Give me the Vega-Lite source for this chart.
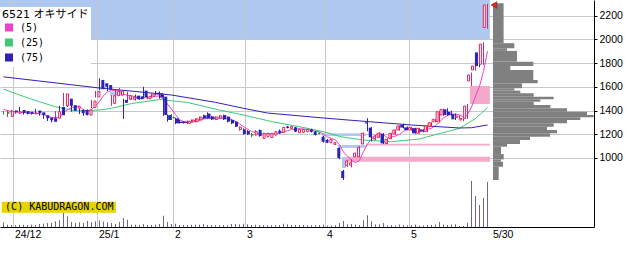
{
"$schema": "https://vega.github.io/schema/vega-lite/v6.json",
"width": 594, "height": 227,
"autosize": {"type": "none"},
"padding": {"left": 0, "top": 0, "right": 45, "bottom": 26},
"background": "white",
"config": {"view": {"stroke": null}, "axis": {"labelFont": "Liberation Sans", "labelFontSize": 10.5, "labelColor": "#000"}},
"datasets": {
"zones": [
{"kind":"blue","x1":-0.875,"x2":121.6,"p1":2000,"p2":2332},
{"kind":"pink","x1":116.6,"x2":121.6,"p1":1455,"p2":1607},
{"kind":"pink","x1":90.6,"x2":121.6,"p1":1105,"p2":1120},
{"kind":"pink","x1":85.5,"x2":121.6,"p1":968,"p2":1010},
{"kind":"blue","x1":26.6,"x2":29.9,"p1":1525,"p2":1558},
{"kind":"blue","x1":79.6,"x2":90.6,"p1":1185,"p2":1208},
{"kind":"blue","x1":83.6,"x2":90.6,"p1":1085,"p2":1109},
{"kind":"blue","x1":84.6,"x2":85.6,"p1":915,"p2":1008}
],
"vgrid": [{"k":2.5},{"k":23.5},{"k":42.5},{"k":60.5},{"k":80.5},{"k":101.5}],
"profile": [
{"p1":2305,"p2":1968,"w":10.6},{"p1":1968,"p2":1925,"w":21.3},{"p1":1925,"p2":1903,"w":14},{"p1":1903,"p2":1812,"w":24},
{"p1":1812,"p2":1776,"w":40.3},{"p1":1776,"p2":1742,"w":17.3},{"p1":1742,"p2":1658,"w":40.3},{"p1":1658,"p2":1630,"w":44.7},
{"p1":1630,"p2":1588,"w":29},{"p1":1588,"p2":1568,"w":21.3},{"p1":1568,"p2":1545,"w":27.3},{"p1":1545,"p2":1517,"w":40.7},
{"p1":1517,"p2":1495,"w":60.7},{"p1":1495,"p2":1475,"w":47.3},{"p1":1475,"p2":1447,"w":40.7},{"p1":1447,"p2":1419,"w":57.3},
{"p1":1419,"p2":1390,"w":74},{"p1":1390,"p2":1362,"w":94},{"p1":1362,"p2":1343,"w":100.7},{"p1":1343,"p2":1320,"w":87.3},
{"p1":1320,"p2":1292,"w":74},{"p1":1292,"p2":1264,"w":60.7},{"p1":1264,"p2":1236,"w":54},{"p1":1236,"p2":1208,"w":64},
{"p1":1208,"p2":1180,"w":57},{"p1":1180,"p2":1151,"w":37},{"p1":1151,"p2":1118,"w":27},{"p1":1118,"p2":1095,"w":14},
{"p1":1095,"p2":1033,"w":8},{"p1":1033,"p2":988,"w":10.7},{"p1":988,"p2":968,"w":8},{"p1":968,"p2":926,"w":10},{"p1":926,"p2":814,"w":5.7}
],
"copy": [{"x1":-0.45,"x2":28.1,"p1":538,"p2":631,"tx":0.4,"tp":583,"t":"(C) KABUDRAGON.COM"}],
"last": [{"k":122.6,"p":2290}],
"candles": [
{"k":0,"o":1380,"h":1395,"l":1365,"c":1380,"v":4.7},
{"k":1,"o":1350,"h":1400,"l":1345,"c":1395,"v":2.3},
{"k":2,"o":1400,"h":1405,"l":1380,"c":1385,"v":2},
{"k":3,"o":1378,"h":1395,"l":1372,"c":1388,"v":1.7},
{"k":4,"o":1405,"h":1430,"l":1375,"c":1380,"v":2.3},
{"k":5,"o":1395,"h":1400,"l":1365,"c":1372,"v":2.3},
{"k":6,"o":1390,"h":1395,"l":1368,"c":1372,"v":2},
{"k":7,"o":1372,"h":1385,"l":1365,"c":1380,"v":2.3},
{"k":8,"o":1400,"h":1415,"l":1375,"c":1380,"v":2},
{"k":9,"o":1385,"h":1390,"l":1358,"c":1362,"v":3},
{"k":10,"o":1360,"h":1365,"l":1330,"c":1335,"v":3.3},
{"k":11,"o":1340,"h":1345,"l":1312,"c":1318,"v":4},
{"k":12,"o":1335,"h":1340,"l":1300,"c":1305,"v":4},
{"k":13,"o":1335,"h":1395,"l":1330,"c":1390,"v":5.7},
{"k":14,"o":1430,"h":1440,"l":1355,"c":1360,"v":6.7},
{"k":15,"o":1440,"h":1548,"l":1435,"c":1540,"v":14},
{"k":16,"o":1500,"h":1520,"l":1430,"c":1440,"v":10.7},
{"k":17,"o":1445,"h":1455,"l":1390,"c":1398,"v":5},
{"k":18,"o":1420,"h":1440,"l":1410,"c":1433,"v":4},
{"k":19,"o":1405,"h":1415,"l":1370,"c":1377,"v":4.7},
{"k":20,"o":1405,"h":1410,"l":1355,"c":1362,"v":4},
{"k":21,"o":1362,"h":1410,"l":1358,"c":1405,"v":6},
{"k":22,"o":1425,"h":1490,"l":1420,"c":1480,"v":5},
{"k":23,"o":1515,"h":1565,"l":1510,"c":1560,"v":5.7},
{"k":24,"o":1658,"h":1672,"l":1570,"c":1580,"v":6.7},
{"k":25,"o":1630,"h":1640,"l":1590,"c":1600,"v":5.3},
{"k":26,"o":1615,"h":1625,"l":1565,"c":1575,"v":4.7},
{"k":27,"o":1460,"h":1530,"l":1440,"c":1525,"v":4},
{"k":28,"o":1525,"h":1575,"l":1515,"c":1560,"v":3},
{"k":29,"o":1530,"h":1590,"l":1525,"c":1565,"v":5},
{"k":30,"o":1490,"h":1500,"l":1330,"c":1465,"v":9},
{"k":31,"o":1495,"h":1560,"l":1480,"c":1525,"v":7.3},
{"k":32,"o":1495,"h":1525,"l":1490,"c":1515,"v":2.3},
{"k":33,"o":1525,"h":1535,"l":1485,"c":1495,"v":2.3},
{"k":34,"o":1520,"h":1525,"l":1490,"c":1495,"v":2},
{"k":35,"o":1568,"h":1600,"l":1505,"c":1512,"v":3},
{"k":36,"o":1500,"h":1525,"l":1495,"c":1520,"v":2},
{"k":37,"o":1520,"h":1550,"l":1510,"c":1540,"v":2},
{"k":38,"o":1550,"h":1565,"l":1530,"c":1535,"v":2.3},
{"k":39,"o":1545,"h":1560,"l":1500,"c":1510,"v":3},
{"k":40,"o":1517,"h":1530,"l":1355,"c":1362,"v":11.3},
{"k":41,"o":1362,"h":1365,"l":1306,"c":1320,"v":5},
{"k":42,"o":1340,"h":1370,"l":1320,"c":1340,"v":3},
{"k":43,"o":1334,"h":1340,"l":1285,"c":1292,"v":3.3},
{"k":44,"o":1306,"h":1320,"l":1290,"c":1295,"v":2},
{"k":45,"o":1303,"h":1310,"l":1290,"c":1295,"v":2},
{"k":46,"o":1292,"h":1315,"l":1285,"c":1310,"v":2},
{"k":47,"o":1305,"h":1325,"l":1300,"c":1320,"v":2.3},
{"k":48,"o":1306,"h":1335,"l":1300,"c":1330,"v":2.3},
{"k":49,"o":1320,"h":1350,"l":1315,"c":1345,"v":2.3},
{"k":50,"o":1360,"h":1365,"l":1330,"c":1334,"v":3},
{"k":51,"o":1375,"h":1385,"l":1330,"c":1334,"v":2},
{"k":52,"o":1350,"h":1355,"l":1320,"c":1325,"v":2},
{"k":53,"o":1325,"h":1350,"l":1320,"c":1345,"v":1.7},
{"k":54,"o":1334,"h":1360,"l":1330,"c":1355,"v":1.7},
{"k":55,"o":1362,"h":1365,"l":1320,"c":1325,"v":2},
{"k":56,"o":1348,"h":1350,"l":1300,"c":1306,"v":1.7},
{"k":57,"o":1320,"h":1325,"l":1285,"c":1292,"v":3},
{"k":58,"o":1306,"h":1310,"l":1260,"c":1264,"v":3},
{"k":59,"o":1240,"h":1265,"l":1230,"c":1260,"v":2.7},
{"k":60,"o":1241,"h":1250,"l":1195,"c":1202,"v":3.3},
{"k":61,"o":1227,"h":1235,"l":1195,"c":1199,"v":2.7},
{"k":62,"o":1195,"h":1210,"l":1175,"c":1195,"v":2},
{"k":63,"o":1194,"h":1235,"l":1190,"c":1222,"v":2.3},
{"k":64,"o":1236,"h":1240,"l":1180,"c":1185,"v":2},
{"k":65,"o":1165,"h":1212,"l":1160,"c":1208,"v":1.7},
{"k":66,"o":1180,"h":1212,"l":1175,"c":1208,"v":1.7},
{"k":67,"o":1172,"h":1210,"l":1168,"c":1205,"v":1.7},
{"k":68,"o":1194,"h":1228,"l":1190,"c":1222,"v":1.7},
{"k":69,"o":1230,"h":1240,"l":1205,"c":1208,"v":2},
{"k":70,"o":1216,"h":1262,"l":1212,"c":1258,"v":3.3},
{"k":71,"o":1264,"h":1270,"l":1250,"c":1253,"v":2.7},
{"k":72,"o":1250,"h":1270,"l":1245,"c":1264,"v":2},
{"k":73,"o":1258,"h":1262,"l":1218,"c":1222,"v":2},
{"k":74,"o":1213,"h":1245,"l":1210,"c":1241,"v":2},
{"k":75,"o":1216,"h":1245,"l":1212,"c":1241,"v":2},
{"k":76,"o":1222,"h":1245,"l":1218,"c":1241,"v":1.7},
{"k":77,"o":1240,"h":1245,"l":1215,"c":1220,"v":1.7},
{"k":78,"o":1222,"h":1228,"l":1190,"c":1194,"v":1.7},
{"k":79,"o":1208,"h":1215,"l":1200,"c":1208,"v":2},
{"k":80,"o":1180,"h":1185,"l":1130,"c":1137,"v":2.3},
{"k":81,"o":1151,"h":1160,"l":1125,"c":1129,"v":1.5},
{"k":82,"o":1129,"h":1160,"l":1125,"c":1157,"v":1.5},
{"k":83,"o":1115,"h":1135,"l":1109,"c":1129,"v":2},
{"k":84,"o":1084,"h":1090,"l":990,"c":1000,"v":4},
{"k":85,"o":890,"h":900,"l":815,"c":830,"v":6},
{"k":86,"o":935,"h":985,"l":925,"c":975,"v":2.7},
{"k":87,"o":940,"h":990,"l":920,"c":960,"v":3},
{"k":88,"o":1010,"h":1045,"l":1008,"c":1040,"v":2.5},
{"k":89,"o":1010,"h":1100,"l":1005,"c":1090,"v":2},
{"k":90,"o":1118,"h":1215,"l":1115,"c":1208,"v":6.7},
{"k":91,"o":1300,"h":1335,"l":1225,"c":1290,"v":11.7},
{"k":92,"o":1256,"h":1260,"l":1140,"c":1174,"v":5.7},
{"k":93,"o":1160,"h":1195,"l":1150,"c":1185,"v":2.7},
{"k":94,"o":1174,"h":1215,"l":1170,"c":1208,"v":2.7},
{"k":95,"o":1202,"h":1210,"l":1118,"c":1123,"v":4},
{"k":96,"o":1123,"h":1165,"l":1118,"c":1157,"v":1.5},
{"k":97,"o":1165,"h":1212,"l":1160,"c":1208,"v":2},
{"k":98,"o":1202,"h":1240,"l":1198,"c":1236,"v":1.5},
{"k":99,"o":1236,"h":1275,"l":1230,"c":1270,"v":2.5},
{"k":100,"o":1278,"h":1290,"l":1250,"c":1256,"v":2},
{"k":101,"o":1258,"h":1265,"l":1232,"c":1236,"v":1.5},
{"k":102,"o":1236,"h":1262,"l":1230,"c":1258,"v":2},
{"k":103,"o":1250,"h":1255,"l":1205,"c":1208,"v":2.5},
{"k":104,"o":1208,"h":1255,"l":1205,"c":1250,"v":1.5},
{"k":105,"o":1236,"h":1242,"l":1218,"c":1222,"v":1.5},
{"k":106,"o":1222,"h":1275,"l":1218,"c":1270,"v":2},
{"k":107,"o":1264,"h":1302,"l":1260,"c":1298,"v":2},
{"k":108,"o":1306,"h":1330,"l":1300,"c":1326,"v":2.5},
{"k":109,"o":1306,"h":1395,"l":1300,"c":1390,"v":5},
{"k":110,"o":1362,"h":1415,"l":1355,"c":1410,"v":2.5},
{"k":111,"o":1410,"h":1418,"l":1355,"c":1362,"v":2},
{"k":112,"o":1390,"h":1398,"l":1355,"c":1362,"v":2.5},
{"k":113,"o":1370,"h":1375,"l":1320,"c":1326,"v":2.7},
{"k":114,"o":1343,"h":1360,"l":1335,"c":1354,"v":1},
{"k":115,"o":1320,"h":1340,"l":1310,"c":1334,"v":1},
{"k":116,"o":1334,"h":1455,"l":1330,"c":1438,"v":4},
{"k":117,"o":1650,"h":1720,"l":1607,"c":1700,"v":46},
{"k":118,"o":1742,"h":1790,"l":1735,"c":1775,"v":31},
{"k":119,"o":1890,"h":1900,"l":1765,"c":1775,"v":22},
{"k":120,"o":1790,"h":1975,"l":1785,"c":1960,"v":29},
{"k":121,"o":2100,"h":2300,"l":2090,"c":2290,"v":45}
],
"ma": [
{"m":"(5)","k":0,"v":1410},{"m":"(5)","k":1,"v":1400},{"m":"(5)","k":2,"v":1392},{"m":"(5)","k":3,"v":1388},{"m":"(5)","k":4,"v":1386},{"m":"(5)","k":5,"v":1384},{"m":"(5)","k":6,"v":1379},{"m":"(5)","k":7,"v":1378},{"m":"(5)","k":8,"v":1377},{"m":"(5)","k":9,"v":1373},
{"m":"(5)","k":10,"v":1366},{"m":"(5)","k":11,"v":1355},{"m":"(5)","k":12,"v":1340},{"m":"(5)","k":13,"v":1342},{"m":"(5)","k":14,"v":1342},{"m":"(5)","k":15,"v":1383},{"m":"(5)","k":16,"v":1407},{"m":"(5)","k":17,"v":1426},{"m":"(5)","k":18,"v":1434},{"m":"(5)","k":19,"v":1438},
{"m":"(5)","k":20,"v":1402},{"m":"(5)","k":21,"v":1395},{"m":"(5)","k":22,"v":1411},{"m":"(5)","k":23,"v":1437},{"m":"(5)","k":24,"v":1477},{"m":"(5)","k":25,"v":1525},{"m":"(5)","k":26,"v":1559},{"m":"(5)","k":27,"v":1568},{"m":"(5)","k":28,"v":1568},{"m":"(5)","k":29,"v":1565},
{"m":"(5)","k":30,"v":1538},{"m":"(5)","k":31,"v":1528},{"m":"(5)","k":32,"v":1526},{"m":"(5)","k":33,"v":1513},{"m":"(5)","k":34,"v":1499},{"m":"(5)","k":35,"v":1508},{"m":"(5)","k":36,"v":1507},{"m":"(5)","k":37,"v":1512},{"m":"(5)","k":38,"v":1520},{"m":"(5)","k":39,"v":1523},
{"m":"(5)","k":40,"v":1493},{"m":"(5)","k":41,"v":1453},{"m":"(5)","k":42,"v":1413},{"m":"(5)","k":43,"v":1365},{"m":"(5)","k":44,"v":1322},{"m":"(5)","k":45,"v":1308},{"m":"(5)","k":46,"v":1306},{"m":"(5)","k":47,"v":1302},{"m":"(5)","k":48,"v":1310},{"m":"(5)","k":49,"v":1320},
{"m":"(5)","k":50,"v":1328},{"m":"(5)","k":51,"v":1333},{"m":"(5)","k":52,"v":1334},{"m":"(5)","k":53,"v":1337},{"m":"(5)","k":54,"v":1339},{"m":"(5)","k":55,"v":1337},{"m":"(5)","k":56,"v":1331},{"m":"(5)","k":57,"v":1325},{"m":"(5)","k":58,"v":1308},{"m":"(5)","k":59,"v":1289},
{"m":"(5)","k":60,"v":1265},{"m":"(5)","k":61,"v":1243},{"m":"(5)","k":62,"v":1224},{"m":"(5)","k":63,"v":1216},{"m":"(5)","k":64,"v":1201},{"m":"(5)","k":65,"v":1202},{"m":"(5)","k":66,"v":1204},{"m":"(5)","k":67,"v":1206},{"m":"(5)","k":68,"v":1206},{"m":"(5)","k":69,"v":1210},
{"m":"(5)","k":70,"v":1220},{"m":"(5)","k":71,"v":1229},{"m":"(5)","k":72,"v":1241},{"m":"(5)","k":73,"v":1241},{"m":"(5)","k":74,"v":1248},{"m":"(5)","k":75,"v":1244},{"m":"(5)","k":76,"v":1242},{"m":"(5)","k":77,"v":1233},{"m":"(5)","k":78,"v":1227},{"m":"(5)","k":79,"v":1221},
{"m":"(5)","k":80,"v":1200},{"m":"(5)","k":81,"v":1178},{"m":"(5)","k":82,"v":1165},{"m":"(5)","k":83,"v":1152},{"m":"(5)","k":84,"v":1110},{"m":"(5)","k":85,"v":1049},{"m":"(5)","k":86,"v":1018},{"m":"(5)","k":87,"v":979},{"m":"(5)","k":88,"v":961},{"m":"(5)","k":89,"v":979},
{"m":"(5)","k":90,"v":1055},{"m":"(5)","k":91,"v":1118},{"m":"(5)","k":92,"v":1160},{"m":"(5)","k":93,"v":1189},{"m":"(5)","k":94,"v":1213},{"m":"(5)","k":95,"v":1196},{"m":"(5)","k":96,"v":1169},{"m":"(5)","k":97,"v":1176},{"m":"(5)","k":98,"v":1186},{"m":"(5)","k":99,"v":1199},
{"m":"(5)","k":100,"v":1225},{"m":"(5)","k":101,"v":1241},{"m":"(5)","k":102,"v":1251},{"m":"(5)","k":103,"v":1246},{"m":"(5)","k":104,"v":1242},{"m":"(5)","k":105,"v":1235},{"m":"(5)","k":106,"v":1242},{"m":"(5)","k":107,"v":1250},{"m":"(5)","k":108,"v":1273},{"m":"(5)","k":109,"v":1301},
{"m":"(5)","k":110,"v":1339},{"m":"(5)","k":111,"v":1357},{"m":"(5)","k":112,"v":1370},{"m":"(5)","k":113,"v":1370},{"m":"(5)","k":114,"v":1363},{"m":"(5)","k":115,"v":1348},{"m":"(5)","k":116,"v":1363},{"m":"(5)","k":117,"v":1430},{"m":"(5)","k":118,"v":1520},{"m":"(5)","k":119,"v":1604},
{"m":"(5)","k":120,"v":1730},{"m":"(5)","k":121,"v":1900},
{"m":"(25)","k":0,"v":1581},{"m":"(25)","k":4,"v":1531},{"m":"(25)","k":9,"v":1474},{"m":"(25)","k":13,"v":1432},{"m":"(25)","k":18,"v":1396},{"m":"(25)","k":24,"v":1404},{"m":"(25)","k":27,"v":1419},{"m":"(25)","k":32,"v":1459},{"m":"(25)","k":39,"v":1493},{"m":"(25)","k":46,"v":1468},{"m":"(25)","k":54,"v":1404},{"m":"(25)","k":60,"v":1362},{"m":"(25)","k":67,"v":1307},{"m":"(25)","k":76,"v":1250},{"m":"(25)","k":81,"v":1213},{"m":"(25)","k":84,"v":1181},{"m":"(25)","k":90,"v":1151},{"m":"(25)","k":97,"v":1137},{"m":"(25)","k":104,"v":1160},{"m":"(25)","k":106,"v":1179},{"m":"(25)","k":114,"v":1250},{"m":"(25)","k":118,"v":1333},{"m":"(25)","k":121,"v":1425},
{"m":"(75)","k":0,"v":1684},{"m":"(75)","k":24,"v":1590},{"m":"(75)","k":42,"v":1531},{"m":"(75)","k":53,"v":1469},{"m":"(75)","k":60,"v":1419},{"m":"(75)","k":66,"v":1379},{"m":"(75)","k":80,"v":1337},{"m":"(75)","k":91,"v":1307},{"m":"(75)","k":102,"v":1278},{"m":"(75)","k":114,"v":1253},{"m":"(75)","k":117,"v":1255},{"m":"(75)","k":121,"v":1278}
]
},
"resolve": {"scale": {"x": "independent", "y": "independent", "color": "independent"}},
"layer": [
{"data": {"name": "zones"}, "mark": {"type": "rect"},
 "encoding": {
  "x": {"field": "x1", "type": "quantitative", "scale": {"domain": [-0.875, 147.625], "nice": false, "zero": false},
        "axis": {"values": [2.5, 23.5, 42.5, 60.5, 80.5, 101.5, 122], "labelExpr": "datum.value == 2.5 ? '24/12' : datum.value == 23.5 ? '25/1' : datum.value == 42.5 ? '2' : datum.value == 60.5 ? '3' : datum.value == 80.5 ? '4' : datum.value == 101.5 ? '5' : '5/30'", "grid": false, "ticks": false, "domainColor": "#000", "labelAlign": "left", "labelOffset": 1, "labelPadding": 2, "labelFlush": false, "labelOverlap": false, "title": null}},
  "x2": {"field": "x2"},
  "y": {"field": "p1", "type": "quantitative", "scale": {"domain": [418, 2332], "nice": false, "zero": false},
        "axis": {"orient": "right", "values": [1000, 1200, 1400, 1600, 1800, 2000, 2200], "format": "d", "grid": true, "gridColor": "#c8c8c8", "domainColor": "#000", "tickColor": "#000", "tickSize": 3, "labelPadding": 2, "labelFlush": false, "labelOverlap": false, "title": null}},
  "y2": {"field": "p2"},
  "color": {"field": "kind", "type": "nominal", "scale": {"domain": ["blue", "pink"], "range": ["#afc8f0", "#f2a9ca"]}, "legend": null}
 }},
{"data": {"name": "vgrid"}, "mark": {"type": "rule", "color": "#c8c8c8", "strokeWidth": 1},
 "encoding": {"x": {"field": "k", "type": "quantitative", "scale": {"domain": [-0.875, 147.625], "nice": false, "zero": false}, "axis": null}}},
{"data": {"name": "profile"}, "mark": {"type": "rect", "color": "#808080"},
 "encoding": {
  "x": {"field": "w", "type": "quantitative", "scale": {"domain": [0, 101], "range": [493, 594], "nice": false, "zero": false}, "axis": null},
  "x2": {"datum": 0},
  "y": {"field": "p1", "type": "quantitative", "scale": {"domain": [418, 2332], "nice": false, "zero": false}, "axis": null},
  "y2": {"field": "p2"}
 }},
{"data": {"name": "candles"}, "mark": {"type": "rule", "color": "#6c6694", "strokeWidth": 1},
 "encoding": {
  "x": {"field": "k", "type": "quantitative", "scale": {"domain": [-0.875, 147.625], "nice": false, "zero": false}, "axis": null},
  "y": {"field": "v", "type": "quantitative", "scale": {"domain": [0, 227], "nice": false}, "axis": null},
  "y2": {"datum": 0}
 }},
{"data": {"name": "ma"}, "mark": {"type": "line", "strokeWidth": 1},
 "encoding": {
  "x": {"field": "k", "type": "quantitative", "scale": {"domain": [-0.875, 147.625], "nice": false, "zero": false}, "axis": null},
  "y": {"field": "v", "type": "quantitative", "scale": {"domain": [418, 2332], "nice": false, "zero": false}, "axis": null},
  "color": {"field": "m", "type": "nominal", "scale": {"domain": ["(5)", "(25)", "(75)"], "range": ["#f040c8", "#40c878", "#3020b8"]},
   "legend": {"title": "6521 オキサイド", "orient": "none", "legendX": 0, "legendY": 7, "fillColor": "#ffffff", "padding": 2,
    "titleFont": "DejaVu Sans, Noto Sans CJK JP", "titleFontSize": 11, "titleFontWeight": "normal", "titleColor": "#000", "titlePadding": 0,
    "labelFont": "DejaVu Sans Mono", "labelFontSize": 10, "labelColor": "#000", "labelOffset": 6,
    "symbolType": "square", "symbolSize": 16, "symbolStrokeWidth": 4, "rowPadding": 0, "clipHeight": 15, "symbolOffset": 2}}
 }},
{"data": {"name": "candles"}, "mark": {"type": "rule", "strokeWidth": 1},
 "encoding": {
  "x": {"field": "k", "type": "quantitative", "scale": {"domain": [-0.875, 147.625], "nice": false, "zero": false}, "axis": null},
  "y": {"field": "l", "type": "quantitative", "scale": {"domain": [418, 2332], "nice": false, "zero": false}, "axis": null},
  "y2": {"field": "h"},
  "color": {"condition": [{"test": "datum.c > datum.o", "value": "#e0245e"}, {"test": "datum.c < datum.o", "value": "#2b22b8"}], "value": "#2a8a2a"}
 }},
{"data": {"name": "candles"}, "transform": [{"filter": "datum.c < datum.o"}], "mark": {"type": "bar", "width": 3, "color": "#2b22b8"},
 "encoding": {
  "x": {"field": "k", "type": "quantitative", "scale": {"domain": [-0.875, 147.625], "nice": false, "zero": false}, "axis": null},
  "y": {"field": "o", "type": "quantitative", "scale": {"domain": [418, 2332], "nice": false, "zero": false}, "axis": null},
  "y2": {"field": "c"}
 }},
{"data": {"name": "candles"}, "transform": [{"filter": "datum.c > datum.o"}], "mark": {"type": "bar", "width": 2, "fill": "#ffffff", "stroke": "#e0245e", "strokeWidth": 1},
 "encoding": {
  "x": {"field": "k", "type": "quantitative", "scale": {"domain": [-0.875, 147.625], "nice": false, "zero": false}, "axis": null},
  "y": {"field": "o", "type": "quantitative", "scale": {"domain": [418, 2332], "nice": false, "zero": false}, "axis": null},
  "y2": {"field": "c"}
 }},
{"data": {"name": "candles"}, "transform": [{"filter": "datum.c == datum.o"}], "mark": {"type": "bar", "width": 2, "fill": "#2a8a2a", "stroke": "#2a8a2a", "strokeWidth": 1},
 "encoding": {
  "x": {"field": "k", "type": "quantitative", "scale": {"domain": [-0.875, 147.625], "nice": false, "zero": false}, "axis": null},
  "y": {"field": "o", "type": "quantitative", "scale": {"domain": [418, 2332], "nice": false, "zero": false}, "axis": null},
  "y2": {"field": "c"}
 }},
{"data": {"name": "last"}, "mark": {"type": "point", "shape": "triangle-left", "filled": true, "size": 45, "color": "#e02828", "stroke": "#801010", "strokeWidth": 0.5, "opacity": 1},
 "encoding": {
  "x": {"field": "k", "type": "quantitative", "scale": {"domain": [-0.875, 147.625], "nice": false, "zero": false}, "axis": null},
  "y": {"field": "p", "type": "quantitative", "scale": {"domain": [418, 2332], "nice": false, "zero": false}, "axis": null}
 }},
{"data": {"name": "copy"}, "mark": {"type": "rect", "color": "#e8d400"},
 "encoding": {
  "x": {"field": "x1", "type": "quantitative", "scale": {"domain": [-0.875, 147.625], "nice": false, "zero": false}, "axis": null},
  "x2": {"field": "x2"},
  "y": {"field": "p1", "type": "quantitative", "scale": {"domain": [418, 2332], "nice": false, "zero": false}, "axis": null},
  "y2": {"field": "p2"}
 }},
{"data": {"name": "copy"}, "mark": {"type": "text", "align": "left", "baseline": "middle", "font": "DejaVu Sans Mono", "fontSize": 10, "color": "#000"},
 "encoding": {
  "x": {"field": "tx", "type": "quantitative", "scale": {"domain": [-0.875, 147.625], "nice": false, "zero": false}, "axis": null},
  "y": {"field": "tp", "type": "quantitative", "scale": {"domain": [418, 2332], "nice": false, "zero": false}, "axis": null},
  "text": {"field": "t"}
 }}
]
}
